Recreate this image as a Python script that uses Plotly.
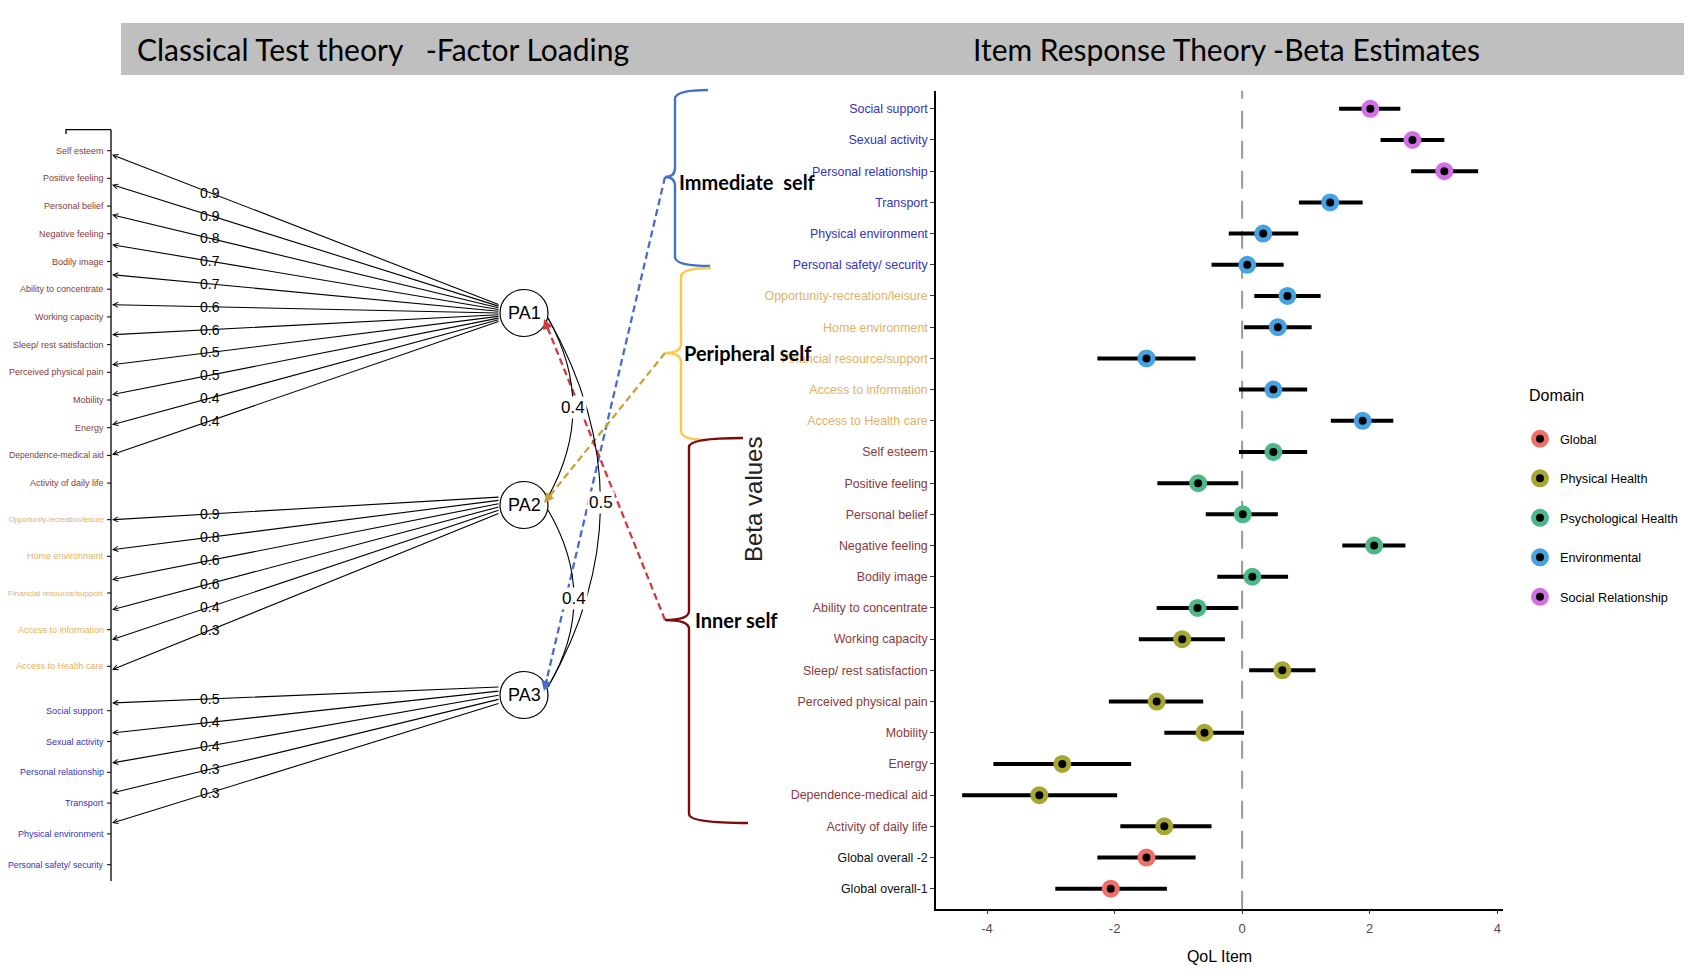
import plotly.graph_objects as go

W, H = 1701, 970

# ---------------- data: Item Response Theory (right panel) ----------------
irt_items = ["Social support", "Sexual activity", "Personal relationship", "Transport",
             "Physical environment", "Personal safety/ security", "Opportunity-recreation/leisure",
             "Home environment", "Financial resource/support", "Access to information",
             "Access to Health care", "Self esteem", "Positive feeling", "Personal belief",
             "Negative feeling", "Bodily image", "Ability to concentrate", "Working capacity",
             "Sleep/ rest satisfaction", "Perceived physical pain", "Mobility", "Energy",
             "Dependence-medical aid", "Activity of daily life", "Global overall -2", "Global overall-1"]
irt_beta = [2.01, 2.67, 3.17, 1.38, 0.33, 0.08, 0.71, 0.56, -1.50, 0.49, 1.89, 0.49, -0.69, 0.01,
            2.07, 0.16, -0.70, -0.94, 0.63, -1.34, -0.59, -2.82, -3.18, -1.22, -1.50, -2.06]
irt_lo = [1.52, 2.17, 2.65, 0.89, -0.21, -0.48, 0.19, 0.03, -2.27, -0.05, 1.39, -0.05, -1.33, -0.57,
          1.57, -0.39, -1.34, -1.62, 0.11, -2.09, -1.22, -3.90, -4.39, -1.91, -2.27, -2.93]
irt_hi = [2.48, 3.17, 3.70, 1.89, 0.88, 0.65, 1.23, 1.09, -0.73, 1.02, 2.37, 1.02, -0.06, 0.56,
          2.56, 0.72, -0.06, -0.27, 1.15, -0.61, 0.03, -1.74, -1.96, -0.48, -0.73, -1.18]
irt_domain = (["Social Relationship"] * 3 + ["Environmental"] * 8 +
              ["Psychological Health"] * 6 + ["Physical Health"] * 7 + ["Global"] * 2)
irt_label_group = ["immediate"] * 6 + ["peripheral"] * 5 + ["inner"] * 13 + ["global"] * 2
x_ticks = [-4, -2, 0, 2, 4]
x_tick_labels = ["-4", "-2", "0", "2", "4"]

domain_order = ["Global", "Physical Health", "Psychological Health", "Environmental", "Social Relationship"]
domain_colors = {"Global": "#F07068", "Physical Health": "#A6A632", "Psychological Health": "#4CB888",
                 "Environmental": "#46A2E2", "Social Relationship": "#D46EE6"}
group_colors = {"immediate": "#3333BB", "peripheral": "#E2B264", "inner": "#8B3A3A", "global": "#111111"}

# ---------------- data: Classical Test Theory (left panel) ----------------
ctt_inner = ["Self esteem", "Positive feeling", "Personal belief", "Negative feeling", "Bodily image",
             "Ability to concentrate", "Working capacity", "Sleep/ rest satisfaction",
             "Perceived physical pain", "Mobility", "Energy", "Dependence-medical aid",
             "Activity of daily life"]
ctt_peripheral = ["Opportunity-recreation/leisure", "Home environment", "Financial resource/support",
                  "Access to information", "Access to Health care"]
ctt_immediate = ["Social support", "Sexual activity", "Personal relationship", "Transport",
                 "Physical environment", "Personal safety/ security"]
pa1_loadings = [0.9, 0.9, 0.8, 0.7, 0.7, 0.6, 0.6, 0.5, 0.5, 0.4, 0.4]
pa2_loadings = [0.9, 0.8, 0.6, 0.6, 0.4, 0.3]
pa3_loadings = [0.5, 0.4, 0.4, 0.3, 0.3]
factors = ["PA1", "PA2", "PA3"]
factor_cor = [("PA1", "PA2", 0.4), ("PA1", "PA3", 0.5), ("PA2", "PA3", 0.4)]

# ---------------- fonts / helpers ----------------
SANS = "Liberation Sans, Arial, sans-serif"
CAL = "Lato, Open Sans, sans-serif"

# approximate Arial advance widths (1/1000 em) used to fit long labels
_AW = {' ': 278, '-': 333, '/': 278, 'A': 667, 'B': 667, 'D': 722, 'E': 667, 'F': 611, 'G': 778,
       'H': 722, 'I': 278, 'M': 833, 'N': 722, 'O': 778, 'P': 667, 'S': 667, 'T': 611, 'W': 944,
       'a': 556, 'b': 556, 'c': 500, 'd': 556, 'e': 556, 'f': 278, 'g': 556, 'h': 556, 'i': 222,
       'j': 222, 'k': 500, 'l': 222, 'm': 833, 'n': 556, 'o': 556, 'p': 556, 'q': 556, 'r': 333,
       's': 500, 't': 278, 'u': 556, 'v': 500, 'w': 722, 'x': 500, 'y': 500, 'z': 500}


def text_em(s):
    return sum(_AW.get(c, 556) for c in s) / 1000.0


fig = go.Figure()

# ================= right panel: IRT forest plot =================
idx = list(range(len(irt_items)))
for dom in domain_order:
    sel = [i for i in idx if irt_domain[i] == dom]
    fig.add_trace(go.Scatter(
        x=[irt_beta[i] for i in sel], y=sel, mode="markers", name=dom,
        legendgroup=dom,
        error_x=dict(type="data", symmetric=False,
                     array=[irt_hi[i] - irt_beta[i] for i in sel],
                     arrayminus=[irt_beta[i] - irt_lo[i] for i in sel],
                     thickness=4, width=0, color="black"),
        marker=dict(symbol="circle", size=13, color="black",
                    line=dict(color=domain_colors[dom], width=5)),
        xaxis="x", yaxis="y"))

ticktext = [f"<span style='color:{group_colors[g]}'>{t}</span>" for t, g in zip(irt_items, irt_label_group)]

x0_px, x1_px, y0_px, y1_px = 928, 1495, 82.7, 900.7
fig.update_layout(
    xaxis=dict(domain=[x0_px / W, x1_px / W], range=[-4.8, 4.09], anchor="y",
               showline=True, linecolor="black", linewidth=1.5, ticks="outside", ticklen=4,
               tickcolor="#333", tickvals=x_ticks, ticktext=x_tick_labels, ticklabelstandoff=3,
               tickfont=dict(family=SANS, size=13, color="#4D4D4D"),
               title=dict(text="QoL Item", font=dict(family=SANS, size=16, color="black"), standoff=16),
               showgrid=False, zeroline=False),
    yaxis=dict(domain=[1 - y1_px / H, 1 - y0_px / H], range=[25.64, -0.58], anchor="x",
               showline=True, linecolor="black", linewidth=1.5, ticks="outside", ticklen=4,
               tickcolor="#333", tickvals=idx, ticktext=ticktext,
               tickfont=dict(family=SANS, size=12.4), showgrid=False, zeroline=False),
    xaxis2=dict(domain=[0, 1], range=[0, W], anchor="y2", visible=False, fixedrange=True),
    yaxis2=dict(domain=[0, 1], range=[H, 0], anchor="x2", visible=False, fixedrange=True),
)

# zero reference line
fig.add_shape(type="line", xref="x", yref="y domain", x0=0, x1=0, y0=0, y1=1,
              line=dict(color="#9A9A9A", width=2, dash="18px,12px"), layer="below")

# ================= title bar =================
fig.add_shape(type="rect", xref="x2", yref="y2", x0=113, x1=1676, y0=15, y1=67,
              fillcolor="#BFBFBF", line=dict(width=0), layer="below")
fig.add_annotation(xref="x2", yref="y2", x=127, y=41, xanchor="left", yanchor="middle",
                   text="Classical Test theory\u00a0\u00a0\u00a0-Factor Loading", showarrow=False,
                   font=dict(family=CAL, size=30, color="black"))
fig.add_annotation(xref="x2", yref="y2", x=963, y=41, xanchor="left", yanchor="middle",
                   text="Item Response Theory -Beta Estimates", showarrow=False,
                   font=dict(family=CAL, size=30, color="black"))

# ================= left panel: factor loading diagram =================
AX_X = 103
groups = [(ctt_inner, 142.7, 27.7, group_colors["inner"]),
          (ctt_peripheral, 511.7, 36.65, group_colors["peripheral"]),
          (ctt_immediate, 702.7, 30.8, group_colors["immediate"])]
for names, start, step, col in groups:
    for i, nm in enumerate(names):
        yy = start + i * step
        fs = min(9.0, 95.0 / text_em(nm))
        fig.add_annotation(xref="x2", yref="y2", x=AX_X - 5, y=yy, xanchor="right", yanchor="middle",
                           text=nm, showarrow=False, font=dict(family=SANS, size=fs, color=col))
        fig.add_shape(type="line", xref="x2", yref="y2", x0=AX_X - 4, x1=AX_X, y0=yy, y1=yy,
                      line=dict(color="black", width=1))

# left axis line and top bracket
fig.add_shape(type="line", xref="x2", yref="y2", x0=AX_X, x1=AX_X, y0=121.7, y1=873,
              line=dict(color="black", width=1.3))
fig.add_shape(type="path", xref="x2", yref="y2", path=f"M 58,126 L 58,121.7 L {AX_X},121.7",
              line=dict(color="black", width=1.3))

# factor nodes
node_pos = {"PA1": (516, 305), "PA2": (516, 497), "PA3": (516, 687)}
RX, RY = 24, 23.5
for f in factors:
    cx, cy = node_pos[f]
    fig.add_shape(type="circle", xref="x2", yref="y2", x0=cx - RX, x1=cx + RX, y0=cy - RY, y1=cy + RY,
                  line=dict(color="black", width=1.2), fillcolor="white")
    fig.add_annotation(xref="x2", yref="y2", x=cx, y=cy, text=f, showarrow=False,
                       font=dict(family=SANS, size=18, color="black"))

# loading arrows (factor -> item)
load_sets = [("PA1", pa1_loadings, 146.7), ("PA2", pa2_loadings, 511.7), ("PA3", pa3_loadings, 695.0)]
FRAC = 0.254
for f, loads, start in load_sets:
    cx, cy = node_pos[f]
    n = len(loads)
    ex = cx - RX
    for i, v in enumerate(loads):
        sy = start + 30 * i
        ey = cy - 8 + 16 * i / (n - 1)
        fig.add_annotation(xref="x2", yref="y2", axref="x2", ayref="y2",
                           x=AX_X + 1, y=sy, ax=ex, ay=ey, text="", showarrow=True,
                           arrowhead=5, arrowsize=0.9, arrowwidth=1.1, arrowcolor="black", standoff=0)
        lx = AX_X + FRAC * (ex - AX_X)
        ly = sy + FRAC * (ey - sy)
        fig.add_annotation(xref="x2", yref="y2", x=lx, y=ly, text=f"{v:.1f}", showarrow=False,
                           font=dict(family=SANS, size=14, color="black"))

# factor correlations (curved links)
bulge = {("PA1", "PA2"): 50, ("PA2", "PA3"): 52, ("PA1", "PA3"): 105}
for a, b, r in factor_cor:
    ax_, ay_ = node_pos[a]
    bx_, by_ = node_pos[b]
    sx, sy = ax_ + RX, ay_ + 5
    tx, ty = bx_ + RX, by_ - 8
    qx, qy = sx + bulge[(a, b)], (sy + ty) / 2
    fig.add_shape(type="path", xref="x2", yref="y2",
                  path=f"M {sx},{sy} Q {qx},{qy} {tx},{ty}", line=dict(color="black", width=1.1))
    mx = 0.25 * sx + 0.5 * qx + 0.25 * tx
    my = 0.25 * sy + 0.5 * qy + 0.25 * ty
    fig.add_annotation(xref="x2", yref="y2", x=mx, y=my, text=f"{r:.1f}", showarrow=False,
                       bgcolor="white", font=dict(family=SANS, size=17, color="black"))


# curly braces
def brace_path(tip_x, tip_y, spine_x, top, bottom, end_top, end_bot, r=9):
    return (f"M {end_top},{top} Q {spine_x},{top} {spine_x},{top + r} "
            f"L {spine_x},{tip_y - r} Q {spine_x},{tip_y} {tip_x},{tip_y} "
            f"Q {spine_x},{tip_y} {spine_x},{tip_y + r} L {spine_x},{bottom - r} "
            f"Q {spine_x},{bottom} {end_bot},{bottom}")


braces = [
    ("Immediate\u00a0\u00a0self", "#4472C4", 657, 169, 667, 82, 258, 700, 702, "PA3", 174, 2),
    ("Peripheral self", "#FFC845", 657, 345, 673, 260, 432, 703, 700, "PA2", 345, 1),
    ("Inner self", "#7B0C0C", 657, 612, 681, 430, 815, 735, 740, "PA1", 612, 4),
]
dash_colors = {"PA3": "#4A6CC8", "PA2": "#C9A23A", "PA1": "#D03A3A"}
for label, col, tx_, ty_, spx, top, bot, et, eb, target, text_y, dx_text in braces:
    fig.add_shape(type="path", xref="x2", yref="y2",
                  path=brace_path(tx_, ty_, spx, top, bot, et, eb),
                  line=dict(color=col, width=2.4))
    fig.add_annotation(xref="x2", yref="y2", x=spx + dx_text, y=text_y, xanchor="left", yanchor="middle",
                       text=f"<b>{label}</b>", showarrow=False,
                       font=dict(family=CAL, size=20, color="black"))
    # dashed link from brace tip to factor
    cx, cy = node_pos[target]
    hx = cx + RX - 4
    hy = cy + (6 if target == "PA1" else (-2 if target == "PA2" else -4))
    fig.add_trace(go.Scatter(x=[tx_, hx], y=[ty_, hy], mode="lines", xaxis="x2", yaxis="y2",
                             line=dict(color=dash_colors[target], width=2.3, dash="7px,4px"),
                             showlegend=False, hoverinfo="skip"))
    dx, dy = tx_ - hx, ty_ - hy
    L = (dx ** 2 + dy ** 2) ** 0.5
    fig.add_annotation(xref="x2", yref="y2", axref="x2", ayref="y2", x=hx, y=hy,
                       ax=hx + dx / L * 14, ay=hy + dy / L * 14, text="", showarrow=True,
                       arrowhead=2, arrowsize=1, arrowwidth=2, arrowcolor=dash_colors[target], standoff=0)

fig.add_annotation(xref="x2", yref="y2", x=745, y=492, text="Beta values", textangle=-90,
                   showarrow=False, font=dict(family=SANS, size=24, color="#222"))

# legend title drawn as text above the legend
fig.add_annotation(xref="x2", yref="y2", x=1519, y=387, xanchor="left", yanchor="middle",
                   text="Domain", showarrow=False, font=dict(family=SANS, size=16, color="black"))

# ================= layout =================
fig.update_layout(
    width=W, height=H, autosize=False,
    margin=dict(l=0, r=0, t=0, b=0),
    paper_bgcolor="white", plot_bgcolor="rgba(0,0,0,0)",
    showlegend=True,
    legend=dict(x=1512 / W, y=1 - 416 / H, xanchor="left", yanchor="top",
                font=dict(family=SANS, size=12.7, color="black"),
                tracegroupgap=20, bgcolor="rgba(0,0,0,0)", itemsizing="trace"),
)

fig.write_html("out.html")
